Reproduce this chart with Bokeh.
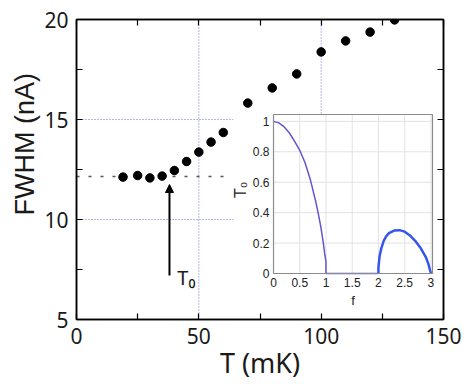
from math import pi
from bokeh.plotting import figure
from bokeh.models import (Range1d, FixedTicker, LinearAxis, Label, Arrow,
                          NormalHead, Title)
from bokeh.core.properties import value
from bokeh.embed import file_html
from bokeh.resources import INLINE

# ---------------- data ----------------
temp_mK = [19, 25, 30, 35, 40, 45, 50, 55, 60, 70, 80, 90, 100, 110, 120, 130]
fwhm_nA = [12.12, 12.2, 12.08, 12.17, 12.45, 12.9, 13.37, 13.87, 14.35,
           15.82, 16.58, 17.28, 18.38, 18.93, 19.37, 19.98]

plateau_T = [0, 62]
plateau_fwhm = [12.15, 12.15]

guide_h_y = [15, 10]
guide_h_x0 = [0, 0]
guide_h_x1 = [64, 64]
guide_v_x = [50, 100]
guide_v_y0 = [5, 15.3]
guide_v_y1 = [20, 20]

arrow_T = 38
arrow_fwhm = [7.2, 11.75]

x_ticks = [0, 50, 100, 150]
x_minor = [25, 75, 125]
x_labels = ["0", "50", "100", "150"]
y_ticks = [5, 10, 15, 20]
y_minor = [7.5, 12.5, 17.5]
y_labels = ["5", "10", "15", "20"]

# inset: T0 versus f
f_branch1 = [0.0, 0.1, 0.2, 0.3, 0.4, 0.5, 0.6, 0.7, 0.8, 0.85, 0.9, 0.95, 0.98, 1.0, 1.0]
t0_branch1 = [1.0, 0.99, 0.965, 0.925, 0.87, 0.81, 0.73, 0.62, 0.48, 0.40, 0.31, 0.2, 0.12, 0.08, 0.0]
f_zero = [1.0, 2.0]
t0_zero = [0.0, 0.0]
f_branch2 = [2.0, 2.0, 2.02, 2.05, 2.1, 2.15, 2.2, 2.3, 2.4, 2.5, 2.6, 2.7, 2.8, 2.9, 2.95, 3.0]
t0_branch2 = [0.0, 0.04, 0.11, 0.16, 0.215, 0.245, 0.265, 0.282, 0.285, 0.275, 0.25,
              0.215, 0.17, 0.11, 0.065, 0.0]

inset_x_ticks = [0, 0.5, 1, 1.5, 2, 2.5, 3]
inset_x_labels = ["0", "0.5", "1", "1.5", "2", "2.5", "3"]
inset_y_ticks = [0, 0.2, 0.4, 0.6, 0.8, 1.0]
inset_y_labels = ["0", "0.2", "0.4", "0.6", "0.8", "1"]
inset_x_lim = [0.0, 3.03]
inset_y_lim = [0.0, 1.045]

# ---------------- layout constants ----------------
MAIN_FONT = "Noto Sans"
LABEL_FONT = "Liberation Sans"
INSET_FONT = "Liberation Sans"
GUIDE_COLOR = "#6b6bd0"
# inset frame as fractions of the main frame (left, right, bottom, top)
INSET_BOX = (0.5368, 0.9700, 0.1533, 0.6833)


def extended_range(lim, f0, f1):
    span = (lim[1] - lim[0]) / (f1 - f0)
    start = lim[0] - f0 * span
    return Range1d(start, start + span)


# ---------------- main figure ----------------
p = figure(width=474, height=384, x_range=Range1d(0, 150), y_range=Range1d(5, 20),
           output_backend="svg", toolbar_location=None,
           min_border_left=76, min_border_right=31, min_border_top=19, min_border_bottom=65)
p.xgrid.visible = False
p.ygrid.visible = False
p.outline_line_color = "black"
p.outline_line_width = 1.5
p.background_fill_color = "white"
p.border_fill_color = "white"

for ax, ticks, minor, labels in ((p.xaxis[0], x_ticks, x_minor, x_labels),
                                 (p.yaxis[0], y_ticks, y_minor, y_labels)):
    ax.ticker = FixedTicker(ticks=ticks, minor_ticks=minor)
    ax.major_label_overrides = {t: l for t, l in zip(ticks, labels)}
    ax.major_tick_in = 6
    ax.major_tick_out = 0
    ax.minor_tick_in = 6
    ax.minor_tick_out = 0
    ax.axis_line_width = 1.5
    ax.major_tick_line_width = 1.2
    ax.minor_tick_line_width = 1.2
    ax.major_label_text_font = MAIN_FONT
    ax.major_label_text_font_size = "21px"
    ax.major_label_text_color = "#1a1a1a"
p.xaxis.major_label_standoff = 8
p.yaxis.major_label_standoff = 8
p.xaxis.axis_label = "T (mK)"
p.xaxis.axis_label_text_font = MAIN_FONT
p.xaxis.axis_label_text_font_style = "normal"
p.xaxis.axis_label_text_font_size = "27px"
p.xaxis.axis_label_text_color = "#1a1a1a"
p.xaxis.axis_label_standoff = -3

for side, ticks, minor in (("right", y_ticks, y_minor), ("above", x_ticks, x_minor)):
    ax = LinearAxis(ticker=FixedTicker(ticks=ticks, minor_ticks=minor),
                    major_label_overrides={t: "" for t in ticks},
                    major_label_text_font_size="1px", major_label_standoff=0,
                    major_tick_in=6, major_tick_out=0, minor_tick_in=6, minor_tick_out=0,
                    axis_line_width=1.5, major_tick_line_width=1.2, minor_tick_line_width=1.2)
    p.add_layout(ax, side)

p.add_layout(Title(text="FWHM (nA)", align="left", offset=104, standoff=0,
                   vertical_align="top", text_font=LABEL_FONT, text_font_size="27px",
                   text_font_style="normal", text_color="#1a1a1a"), "left")

# guide lines
p.segment(x0=guide_h_x0, y0=guide_h_y, x1=guide_h_x1, y1=guide_h_y,
          line_color=GUIDE_COLOR, line_width=1, line_dash="1 2")
p.segment(x0=guide_v_x, y0=guide_v_y0, x1=guide_v_x, y1=guide_v_y1,
          line_color=GUIDE_COLOR, line_width=1, line_dash="1 2")
p.line(plateau_T, plateau_fwhm, line_color="#555555", line_width=1.5, line_dash="3 9")

p.scatter(temp_mK, fwhm_nA, size=8.5, fill_color="black", line_color="black")

p.add_layout(Arrow(end=NormalHead(size=8, fill_color="black", line_color="black"),
                   x_start=arrow_T, y_start=arrow_fwhm[0], x_end=arrow_T, y_end=arrow_fwhm[1],
                   line_width=2, line_color="black"))
p.add_layout(Label(x=41.2, y=7.1, text="T₀", text_font=MAIN_FONT, text_font_size="20px",
                   text_color="#1a1a1a", text_baseline="alphabetic"))

# ---------------- inset (own ranges inside the main frame) ----------------
p.extra_x_ranges = {"fx": extended_range(inset_x_lim, INSET_BOX[0], INSET_BOX[1])}
p.extra_y_ranges = {"fy": extended_range(inset_y_lim, INSET_BOX[2], INSET_BOX[3])}
I = dict(x_range_name="fx", y_range_name="fy")

p.quad(left=[inset_x_lim[0]], right=[inset_x_lim[1]], bottom=[inset_y_lim[0]],
       top=[inset_y_lim[1]], fill_color="white", line_color=None, **I)
p.segment(x0=inset_x_ticks, y0=[inset_y_lim[0]] * len(inset_x_ticks),
          x1=inset_x_ticks, y1=[inset_y_lim[1]] * len(inset_x_ticks),
          line_color="#e2e2e2", line_width=1, **I)
p.segment(x0=[inset_x_lim[0]] * len(inset_y_ticks), y0=inset_y_ticks,
          x1=[inset_x_lim[1]] * len(inset_y_ticks), y1=inset_y_ticks,
          line_color="#e2e2e2", line_width=1, **I)

p.line(f_zero, t0_zero, line_color="#5a5ad8", line_width=1.5, **I)
p.line(f_branch1, t0_branch1, line_color="#6655cc", line_width=1.5, **I)
p.line(f_branch2, t0_branch2, line_color="#3556ee", line_width=2.5, **I)

p.quad(left=[inset_x_lim[0]], right=[inset_x_lim[1]], bottom=[inset_y_lim[0]],
       top=[inset_y_lim[1]], fill_color=None, line_color="#8c8c8c", line_width=1.2, **I)

p.text(x=inset_x_ticks, y=[inset_y_lim[0]] * len(inset_x_ticks), text=inset_x_labels,
       text_font=value(INSET_FONT), text_font_size="12px", text_color="#222222",
       text_align="center", text_baseline="top", y_offset=4, **I)
p.text(x=[inset_x_lim[0]] * len(inset_y_ticks), y=inset_y_ticks, text=inset_y_labels,
       text_font=value(INSET_FONT), text_font_size="12px", text_color="#222222",
       text_align="right", text_baseline="middle", x_offset=-4, **I)
p.text(x=[sum(inset_x_lim) / 2], y=[inset_y_lim[0]], text=["f"],
       text_font=value(INSET_FONT), text_font_size="13px", text_color="#222222",
       text_align="center", text_baseline="top", y_offset=19, **I)
p.text(x=[inset_x_lim[0]], y=[0.55], text=["T₀"], angle=pi / 2,
       text_font=value(INSET_FONT), text_font_size="16px", text_color="#222222",
       text_align="center", text_baseline="middle", x_offset=-33, **I)

open("out.html", "w").write(file_html(p, INLINE))
